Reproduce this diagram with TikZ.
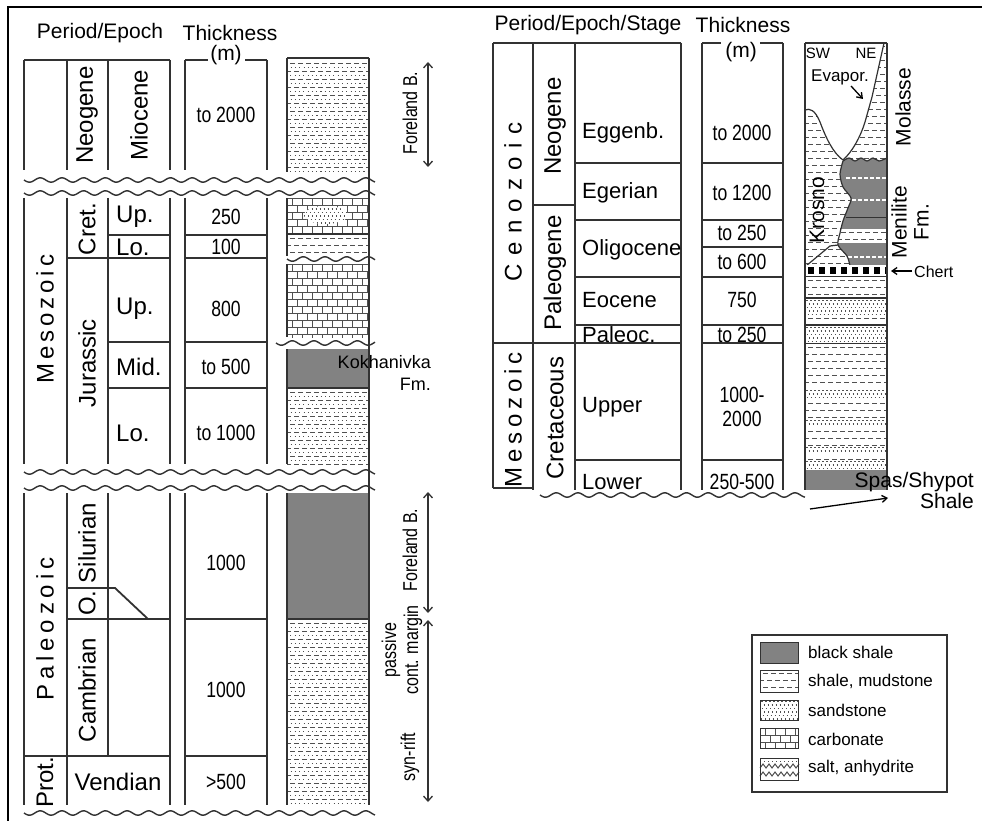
\documentclass[tikz,border=0pt]{standalone}
\usepackage{fontspec}
\setmainfont{Liberation Sans}
\newfontfamily\nar[FakeStretch=0.8]{Liberation Sans}
\newfontfamily\spcA[LetterSpace=16]{Liberation Sans}
\newfontfamily\spcB[LetterSpace=35]{Liberation Sans}
\newfontfamily\spcC[LetterSpace=20]{Liberation Sans}
\usetikzlibrary{arrows.meta}
\definecolor{lc}{RGB}{50,50,50}
\definecolor{pc}{RGB}{80,80,80}
\definecolor{bs}{RGB}{130,130,130}
\newcommand{\fL}{\fontsize{24}{26}\selectfont}
\newcommand{\fR}{\fontsize{22}{24}\selectfont}
\newcommand{\fH}{\fontsize{21}{23}\selectfont}
\newcommand{\fN}{\nar\fontsize{22}{24}\selectfont}
\newcommand{\fS}{\nar\fontsize{20}{22}\selectfont}
\newcommand{\fT}{\fontsize{17}{19}\selectfont}
\newcommand{\fM}{\fontsize{21}{22}\selectfont}

\newcommand{\shalepat}[4]{%
\begin{scope}
\clip (#1,#2) rectangle (#3,#4);
\pgfmathsetmacro{\lpA}{#2+3.5}\pgfmathsetmacro{\lpB}{#2+10.5}\pgfmathsetmacro{\lpC}{#4+3}%
\foreach \yy [count=\k] in {\lpA,\lpB,...,\lpC}{%
\pgfmathsetmacro{\ph}{mod(\k,2)*4}%
\draw[pl,dash pattern=on 5pt off 3pt,dash phase=\ph pt] (#1-1,\yy) -- (#3+1,\yy);}
\end{scope}}

\newcommand{\sandpat}[4]{%
\begin{scope}
\clip (#1,#2) rectangle (#3,#4);
\pgfmathsetmacro{\lpA}{#2+1.5}\pgfmathsetmacro{\lpB}{#2+5}\pgfmathsetmacro{\lpC}{#4+2}%
\foreach \yy [count=\k] in {\lpA,\lpB,...,\lpC}{%
\pgfmathsetmacro{\ph}{mod(\k*1.7,4)}%
\draw[draw=pc,line width=1.2pt,dash pattern=on 1.2pt off 2.8pt,dash phase=\ph pt] (#1-1,\yy) -- (#3+1,\yy);}
\end{scope}}

\newcommand{\shsandpat}[4]{%
\begin{scope}
\clip (#1,#2) rectangle (#3,#4);
\pgfmathsetmacro{\lpA}{#2+3.5}\pgfmathsetmacro{\lpB}{#2+11.5}\pgfmathsetmacro{\lpC}{#4+3}%
\foreach \yy [count=\k] in {\lpA,\lpB,...,\lpC}{%
\pgfmathsetmacro{\ph}{mod(\k,2)*4}%
\draw[pl,dash pattern=on 5pt off 3pt,dash phase=\ph pt] (#1-1,\yy) -- (#3+1,\yy);
\draw[draw=pc,line width=1.1pt,dash pattern=on 1.1pt off 3.2pt,dash phase=\ph pt] (#1-1,\yy+4) -- (#3+1,\yy+4);}
\end{scope}}

\newcommand{\carbpat}[4]{%
\begin{scope}
\clip (#1,#2) rectangle (#3,#4);
\pgfmathsetmacro{\lpA}{#2+0.5}\pgfmathsetmacro{\lpB}{#2+7.5}\pgfmathsetmacro{\lpC}{#4+3}%
\foreach \yy [count=\k] in {\lpA,\lpB,...,\lpC}{%
\draw[pl] (#1-1,\yy) -- (#3+1,\yy);
\pgfmathsetmacro{\lpD}{#1+mod(\k,2)*5}\pgfmathsetmacro{\lpE}{\lpD+10}%
\foreach \xx in {\lpD,\lpE,...,#3}{\draw[pl] (\xx,\yy) -- (\xx,\yy+7);}}
\end{scope}}

\newcommand{\wavy}[3]{%
\draw[wv] plot[domain=0:#2-#1,samples=220,smooth] ({#1+\x},{#3+2.2*sin(\x*16.59)});}

\begin{document}
\begin{tikzpicture}[x=1pt,y=-1pt,
  tl/.style={draw=lc,line width=1.8pt},
  pl/.style={draw=pc,line width=1pt},
  wv/.style={draw=lc,line width=1.4pt},
  lb/.style={inner sep=0pt,font=\fL},
  rt/.style={lb,rotate=90},
  nm/.style={inner sep=0pt,font=\fN},
  hd/.style={inner sep=0pt,font=\fH},
  sm/.style={inner sep=0pt,font=\fS},
  st/.style={inner sep=0pt,font=\fR,anchor=west},
  arr/.style={draw=lc,line width=1.3pt,{Straight Barb[length=5pt,width=9pt]}-{Straight Barb[length=5pt,width=9pt]}},
  sarr/.style={draw=black,line width=1.3pt,-{Straight Barb[length=5pt,width=7pt]}},
]
\useasboundingbox (0,0) rectangle (982,821);
\fill[white] (0,0) rectangle (982,821);
\draw[line width=2.5pt,black] (982,7) -- (8,7) -- (8,821);

% ================= LEFT PANEL =================
\node[hd] (lh1) at (100,33) {Period/Epoch};
\node[hd] (lh2) at (230,33) {Thickness};
\node[hd] (lh3) at (226,55) {(m)};

% Neogene block
\draw[tl] (24,60) -- (170,60);
\foreach \xx in {24,67,108,170,185,267} \draw[tl] (\xx,60) -- (\xx,170);
\draw[tl] (185,60) -- (208,60);
\draw[tl] (245,60) -- (267,60);
\node[rt] (lneo) at (87,115) {Neogene};
\node[rt] (lmio) at (139,115) {Miocene};
\node[nm] (lt1) at (226,115) {to 2000};

% Mesozoic block
\foreach \xx in {24,67,108,170,185,267} \draw[tl] (\xx,198) -- (\xx,464);
\draw[tl] (108,235) -- (170,235); \draw[tl] (185,235) -- (267,235);
\draw[tl] (67,258) -- (170,258); \draw[tl] (185,258) -- (267,258);
\draw[tl] (108,342) -- (170,342); \draw[tl] (185,342) -- (267,342);
\draw[tl] (108,388) -- (170,388); \draw[tl] (185,388) -- (267,388);
\node[rt,font=\spcA\fL] (lmes) at (45,319) {Mesozoic};
\node[rt] (lcret) at (87,229) {Cret.};
\node[lb,anchor=west] (lcup) at (116,217) {Up.};
\node[nm] (lc250) at (226,217) {250};
\node[lb,anchor=west] (lclo) at (116,247) {Lo.};
\node[nm] (lc100) at (226,247) {100};
\node[rt] (ljur) at (87,363) {Jurassic};
\node[lb,anchor=west] (ljup) at (116,309) {Up.};
\node[nm] (lj800) at (226,309) {800};
\node[lb,anchor=west] (ljmid) at (116,367) {Mid.};
\node[nm] (lj500) at (226,367) {to 500};
\node[lb,anchor=west] (ljlo) at (116,433) {Lo.};
\node[nm] (lj1000) at (226,433) {to 1000};

% Paleozoic block
\foreach \xx in {24,67,170,185,267} \draw[tl] (\xx,493) -- (\xx,805);
\draw[tl] (108,493) -- (108,756);
\draw[tl] (67,588) -- (115,588) -- (148,619);
\draw[tl] (67,619) -- (170,619); \draw[tl] (185,619) -- (267,619);
\draw[tl] (24,756) -- (170,756); \draw[tl] (185,756) -- (267,756);
\node[rt,font=\spcC\fL] (lpal) at (45,629) {Paleozoic};
\node[rt] (lsil) at (87,543) {Silurian};
\node[rt] (lord) at (87,603) {O.};
\node[nm] (ls1000) at (226,563) {1000};
\node[rt] (lcam) at (87,690) {Cambrian};
\node[nm] (lcm1000) at (226,690) {1000};
\node[rt] (lprot) at (45,782) {Prot.};
\node[lb] (lven) at (118,782) {Vendian};
\node[nm] (lv500) at (226,782) {>500};

% lithology column (left)
\shsandpat{287}{60}{369}{172}
\draw[tl] (287,58) -- (369,58); \draw[tl] (287,58) -- (287,172);
\carbpat{287}{198}{369}{233}
\begin{scope}
\clip (326,215) ellipse (22 and 9);
\fill[white] (300,200) rectangle (352,232);
\sandpat{300}{204}{352}{228}
\end{scope}
\draw[tl] (287,234) -- (369,234);
\shalepat{287}{235}{369}{256}
\carbpat{287}{264}{369}{337}
\fill[bs] (287,349) rectangle (369,388);
\draw[tl] (287,388) -- (369,388);
\shsandpat{287}{389}{369}{464}
\draw[tl] (287,198) -- (287,256);
\draw[tl] (287,264) -- (287,337);
\draw[tl] (287,349) -- (287,464);
\fill[bs] (287,493) rectangle (369,619);
\draw[tl] (287,619) -- (369,619);
\shsandpat{287}{620}{369}{805}
\draw[tl] (287,493) -- (287,805);
\draw[tl] (369,58) -- (369,805);

% wavy breaks (left)
\wavy{24}{375}{180}
\wavy{24}{375}{193}
\wavy{287}{375}{259}
\wavy{276}{375}{343}
\wavy{24}{375}{472}
\wavy{24}{375}{488}
\wavy{24}{375}{813}

% Kokhanivka label
\node[inner sep=0pt,font=\fontsize{18}{20}\selectfont,anchor=east] (kok) at (431,362) {Kokhanivka};
\node[inner sep=0pt,font=\fontsize{18}{20}\selectfont,anchor=east] (kokfm) at (431,384) {Fm.};

% side arrows and labels
\coordinate (a1t) at (428,62); \coordinate (a1b) at (428,167);
\draw[arr] (a1t) -- (a1b);
\node[sm,rotate=90] (fb1) at (410,113) {Foreland B.};
\coordinate (a2t) at (428,492); \coordinate (a2b) at (428,613);
\coordinate (a3t) at (428,620); \coordinate (a3b) at (428,802);
\draw[arr] (a2t) -- (a2b);
\draw[arr] (a3t) -- (a3b);
\node[sm,rotate=90] (fb2) at (410,550) {Foreland B.};
\node[sm,rotate=90,align=center] (pcm) at (402,650) {passive\\cont. margin};
\node[sm,rotate=90] (syn) at (410,757) {syn-rift};

% ================= RIGHT PANEL =================
\node[hd] (rh1) at (588,25) {Period/Epoch/Stage};
\node[hd] (rh2) at (743,25) {Thickness};
\node[hd] (rh3) at (741,52) {(m)};

\draw[tl] (493,43) -- (681,43);
\draw[tl] (702,43) -- (721,43); \draw[tl] (760,43) -- (783,43);
\draw[tl] (493,43) -- (493,488);
\foreach \xx in {533,575,681,702,783} \draw[tl] (\xx,43) -- (\xx,490);
\draw[tl] (575,163) -- (681,163); \draw[tl] (702,163) -- (783,163);
\draw[tl] (533,205) -- (575,205);
\draw[tl] (575,220) -- (681,220); \draw[tl] (702,220) -- (783,220);
\draw[tl] (702,247) -- (783,247);
\draw[tl] (575,277) -- (681,277); \draw[tl] (702,277) -- (783,277);
\draw[tl] (575,325) -- (681,325); \draw[tl] (702,325) -- (783,325);
\draw[tl] (493,343) -- (681,343); \draw[tl] (702,343) -- (783,343);
\draw[tl] (575,460) -- (681,460); \draw[tl] (702,460) -- (783,460);
\draw[tl] (493,488) -- (533,488);
\wavy{540}{805}{495}

\node[rt,font=\spcB\fL] (rcen) at (513,202) {Cenozoic};
\node[rt] (rneo) at (555,126) {Neogene};
\node[rt] (rpal) at (555,273) {Paleogene};
\node[rt,font=\spcC\fL] (rmes) at (513,420) {Mesozoic};
\node[rt] (rcre) at (555,418) {Cretaceous};
\node[st] (segg) at (582,133) {Eggenb.};
\node[st] (sege) at (582,193) {Egerian};
\node[st] (soli) at (582,250) {Oligocene};
\node[st] (seoc) at (582,300) {Eocene};
\node[st] (spal) at (582,335) {Paleoc.};
\node[st] (supp) at (582,407) {Upper};
\node[st] (slow) at (582,482) {Lower};
\node[nm] (r1) at (742,133) {to 2000};
\node[nm] (r2) at (742,193) {to 1200};
\node[nm] (r3) at (742,233) {to 250};
\node[nm] (r4) at (742,262) {to 600};
\node[nm] (r5) at (742,300) {750};
\node[nm] (r6) at (742,335) {to 250};
\node[nm,align=center] (r7) at (742,407) {1000-\\2000};
\node[nm] (r8) at (742,482) {250-500};

% lithology column (right)
\shalepat{805}{43}{887}{266}
\fill[white] (806,44) -- (884,44) -- (872,97) -- (865,122) .. controls (860,138) and (852,152) .. (843,160) .. controls (833,153) and (826,138) .. (820,122) .. controls (815,110) and (810,108) .. (806,110) -- cycle;
\draw[lc,line width=1.2pt] (884,43) -- (872,97) -- (865,122) .. controls (860,138) and (852,152) .. (843,160);
\draw[lc,line width=1.2pt] (805,110) .. controls (810,108) and (815,110) .. (820,122) .. controls (826,138) and (833,153) .. (843,160);
\fill[bs] plot[smooth] coordinates {(850,266) (847,256) (838,245) (840,233) (843,221) (848,208) (851,198) (843,187) (840,174) (843,161)} -- plot[smooth] coordinates {(843,161) (849,158) (855,161) (861,158) (867,161) (873,158) (879,161) (887,158)} -- (887,266) -- cycle;
\fill[white] (838,229) rectangle (887,243);
\shalepat{838}{229}{887}{243}
\draw[white,line width=1.3pt,dash pattern=on 4pt off 2pt] (846,178) -- (887,178);
\draw[white,line width=1.3pt,dash pattern=on 4pt off 2pt] (852,200) -- (887,200);
\draw[white,line width=1.3pt,dash pattern=on 4pt off 2pt] (848,257) -- (887,257);
\draw[lc,line width=1pt] (846,217) -- (887,217);
\draw[lc,line width=1.2pt] plot[smooth] coordinates {(850,266) (847,256) (838,245) (840,233) (843,221) (848,208) (851,198) (843,187) (840,174) (843,161)};
\draw[lc,line width=1.2pt] plot[smooth] coordinates {(843,161) (849,158) (855,161) (861,158) (867,161) (873,158) (879,161) (887,158)};
\draw[lc,line width=1.2pt] (806,266) -- (812,261) -- (818,256) -- (824,251) -- (830,246) -- (838,245);
% chert
\fill[white] (806,265) rectangle (887,276);
\draw[black,line width=7pt,dash pattern=on 6pt off 5pt] (808,270.5) -- (887,270.5);
\draw[lc,line width=1pt] (805,276.5) -- (887,276.5);
% lower part
\shalepat{805}{277}{887}{298}
\draw[tl] (805,298) -- (887,298);
\sandpat{805}{299}{887}{316}
\shalepat{805}{315}{887}{325}
\draw[tl] (805,325) -- (887,325);
\sandpat{805}{326}{887}{343}
\draw[lc,line width=1pt] (805,343) -- (887,343);
\shalepat{805}{344}{887}{460}
\fill[white] (805,389) rectangle (887,397); \sandpat{805}{389}{887}{397}
\fill[white] (805,419) rectangle (887,426); \sandpat{805}{419}{887}{426}
\fill[white] (805,446) rectangle (887,453); \sandpat{805}{446}{887}{453}
\sandpat{805}{460}{887}{470}
\fill[bs] (805,470) rectangle (887,490);
\draw[tl] (805,43) -- (887,43);
\draw[tl] (805,43) -- (805,490);
\draw[tl] (887,43) -- (887,490);

% right lith labels
\node[inner sep=0pt,font=\fontsize{15}{17}\selectfont] (sw) at (818,53) {SW};
\node[inner sep=0pt,font=\fontsize{15}{17}\selectfont] (ne) at (866,53) {NE};
\node[inner sep=0pt,font=\fontsize{17}{19}\selectfont] (evap) at (840,77) {Evapor.};
\coordinate (ev1) at (851,86); \coordinate (ev2) at (863,99);
\draw[sarr] (ev1) -- (ev2);
\node[inner sep=0pt,font=\fM,rotate=90] (kro) at (817,210) {Krosno};
\node[inner sep=0pt,font=\fM,rotate=90] (mol) at (903,107) {Molasse};
\node[inner sep=0pt,font=\fM,rotate=90,align=center] (men) at (910,222) {Menilite\\Fm.};
\coordinate (ch1) at (912,271); \coordinate (ch2) at (891,271);
\draw[sarr] (ch1) -- (ch2);
\node[inner sep=0pt,font=\fontsize{16}{18}\selectfont,anchor=west] (chert) at (914,272) {Chert};
\node[inner sep=0pt,font=\fM,anchor=east] (spas) at (974,482) {Spas/Shypot};
\node[inner sep=0pt,font=\fM,anchor=east] (spas2) at (974,501) {Shale};
\coordinate (bt1) at (810,509); \coordinate (bt2) at (888,498);
\draw[sarr] (bt1) -- (bt2);

% ================= LEGEND =================
\draw[draw=lc,line width=1.6pt] (752,635) rectangle (947,792);
\fill[bs] (760,642) rectangle (798,663);
\draw[draw=lc,line width=1pt] (760,642) rectangle (798,663);
\shalepat{760}{670}{798}{692}
\draw[draw=lc,line width=1pt] (760,670) rectangle (798,692);
\sandpat{760}{700}{798}{720}
\draw[draw=lc,line width=1pt] (760,700) rectangle (798,720);
\carbpat{760}{728}{798}{748}
\draw[draw=lc,line width=1pt] (760,728) rectangle (798,748);
\draw[draw=pc,line width=0.8pt,dash pattern=on 1pt off 3pt] (760,761) -- (798,761);
\draw[pl] (760,768) \foreach \i in {1,...,13}{ -- ({760+3*\i},{768-4*mod(\i,2)}) };
\draw[pl] (760,776) \foreach \i in {1,...,13}{ -- ({760+3*\i},{776-4*mod(\i,2)}) };
\draw[draw=lc,line width=1pt] (760,758) rectangle (798,780);
\node[inner sep=0pt,font=\fT,anchor=west] (lg1) at (808,652) {black shale};
\node[inner sep=0pt,font=\fT,anchor=west] (lg2) at (808,681) {shale, mudstone};
\node[inner sep=0pt,font=\fT,anchor=west] (lg3) at (808,710) {sandstone};
\node[inner sep=0pt,font=\fT,anchor=west] (lg4) at (808,739) {carbonate};
\node[inner sep=0pt,font=\fT,anchor=west] (lg5) at (808,768) {salt, anhydrite};
\end{tikzpicture}
\end{document}
